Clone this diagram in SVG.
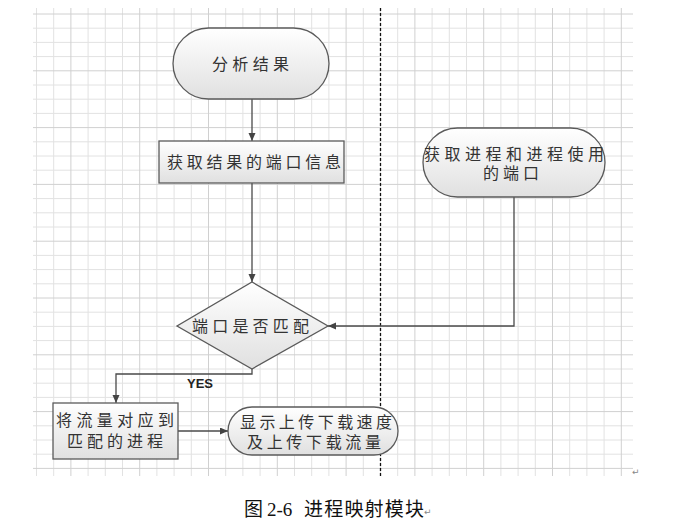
<svg xmlns="http://www.w3.org/2000/svg" width="691" height="521" viewBox="0 0 691 521">
<defs>
<linearGradient id="g" x1="0" y1="0" x2="0" y2="1">
<stop offset="0" stop-color="#ffffff"/>
<stop offset="1" stop-color="#e0e0e0"/>
</linearGradient>
<marker id="arr" markerUnits="userSpaceOnUse" markerWidth="9" markerHeight="8" refX="8" refY="3.5" orient="auto">
<path d="M0,0 L8,3.5 L0,7 z" fill="#444"/>
</marker>
<style>
.minor{stroke:#e2e2e2;stroke-width:1;fill:none}
.major{stroke:#d0d0d0;stroke-width:1;fill:none}
.shape{fill:url(#g);stroke:#5a5a5a;stroke-width:1.3}
.conn{fill:none;stroke:#4a4a4a;stroke-width:1.3;marker-end:url(#arr)}
.t{font-family:"Liberation Sans","Noto Sans CJK SC",sans-serif;font-size:16px;fill:#333}
.yes{font-family:"Liberation Sans",Arial,sans-serif;font-size:12px;font-weight:bold;fill:#222}
.cap{font-family:"Noto Sans CJK SC","Noto Sans",sans-serif;font-size:19px;fill:#111}
.capn{font-family:"Liberation Serif","Times New Roman",serif;font-size:19px;fill:#111}
.mark{font-family:"DejaVu Sans",sans-serif;font-size:9px;fill:#888}
</style>
</defs>
<rect width="691" height="521" fill="#ffffff"/>
<g id="grid">
<path class="minor" d="M36.5 8V476M53.7 8V476M88.1 8V476M105.3 8V476M122.5 8V476M156.9 8V476M174.1 8V476M191.3 8V476M225.7 8V476M242.9 8V476M260.1 8V476M294.5 8V476M311.7 8V476M328.9 8V476M363.3 8V476M380.5 8V476M397.7 8V476M432.1 8V476M449.3 8V476M466.5 8V476M500.9 8V476M518.1 8V476M535.3 8V476M569.7 8V476M586.9 8V476M604.1 8V476
M33 28.2H633M33 42.4H633M33 56.6H633M33 85H633M33 99.2H633M33 113.4H633M33 141.8H633M33 156H633M33 170.2H633M33 198.6H633M33 212.8H633M33 227H633M33 255.4H633M33 269.6H633M33 283.8H633M33 312.2H633M33 326.4H633M33 340.6H633M33 369H633M33 383.2H633M33 397.4H633M33 425.8H633M33 440H633M33 454.2H633"/>
<path class="major" d="M70.9 8V476M139.7 8V476M208.5 8V476M277.3 8V476M346.1 8V476M414.9 8V476M483.7 8V476M552.5 8V476M621.3 8V476
M33 14H633M33 70.8H633M33 127.6H633M33 184.4H633M33 241.2H633M33 298H633M33 354.8H633M33 411.6H633M33 468.4H633"/>
<line x1="380.5" y1="8" x2="380.5" y2="476" stroke="#111" stroke-width="1.3" stroke-dasharray="3,2"/>
</g>
<g id="connectors">
<path class="conn" d="M252 99V141"/>
<path class="conn" d="M252 183V282"/>
<path class="conn" d="M514 197V326H328"/>
<path class="conn" d="M252 369V374H116V403"/>
<path class="conn" d="M178 431H228"/>
<text class="yes" x="187" y="388" textLength="26" lengthAdjust="spacingAndGlyphs">YES</text>
</g>
<g id="n1">
<rect class="shape" x="173" y="28" width="156" height="71" rx="35.5" ry="35.5"/>
<text class="t" x="212" y="69.5" textLength="77" lengthAdjust="spacing">分析结果</text>
</g>
<g id="n2">
<rect class="shape" x="159" y="141" width="185" height="42"/>
<text class="t" x="167" y="168" textLength="174" lengthAdjust="spacing">获取结果的端口信息</text>
</g>
<g id="n3">
<polygon class="shape" points="252,282 328,326 252,369 177,326"/>
<text class="t" x="192" y="331.5" textLength="117" lengthAdjust="spacing">端口是否匹配</text>
</g>
<g id="n4">
<rect class="shape" x="423" y="128" width="182" height="69" rx="34.5" ry="34.5"/>
<text class="t"><tspan x="424" y="160" textLength="180" lengthAdjust="spacing">获取进程和进程使用</tspan><tspan x="483" y="178.5" textLength="56" lengthAdjust="spacing">的端口</tspan></text>
</g>
<g id="n5">
<rect class="shape" x="53" y="403" width="125" height="56"/>
<text class="t"><tspan x="56" y="426" textLength="118" lengthAdjust="spacing">将流量对应到</tspan><tspan x="67" y="446.5" textLength="96" lengthAdjust="spacing">匹配的进程</tspan></text>
</g>
<g id="n6">
<rect class="shape" x="228" y="407" width="170" height="48" rx="24" ry="24"/>
<text class="t"><tspan x="240" y="428" textLength="152" lengthAdjust="spacing">显示上传下载速度</tspan><tspan x="247" y="448" textLength="134" lengthAdjust="spacing">及上传下载流量</tspan></text>
</g>
<g id="caption">
<text class="cap" x="244" y="516">图</text>
<text class="capn" x="267" y="516">2-6</text>
<text class="cap" x="304" y="516" textLength="120" lengthAdjust="spacing">进程映射模块</text>
<text class="mark" x="424" y="515">↵</text>
<text class="mark" x="632" y="475">↵</text>
</g>
</svg>
